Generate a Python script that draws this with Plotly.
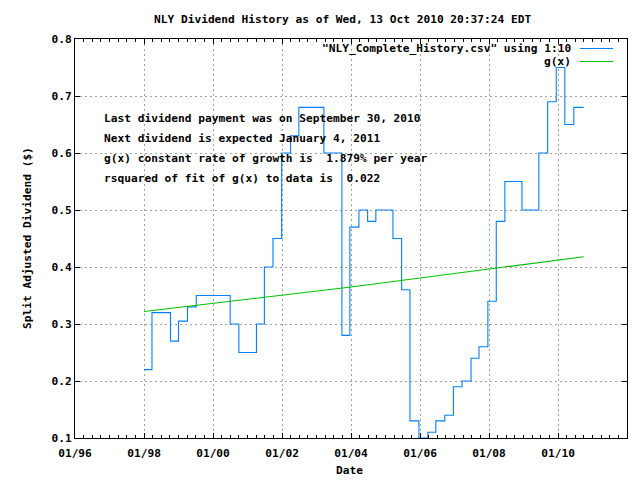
import plotly.graph_objects as go

# dividend history, steps (value holds until next date)
div_dates = [
    "1998-01-01", "1998-03-26", "1998-10-08", "1999-01-01", "1999-04-06",
    "1999-07-08", "2000-07-01", "2000-10-01", "2001-04-05", "2001-06-28",
    "2001-09-27", "2001-12-28", "2002-04-01", "2002-06-28", "2003-03-20",
    "2003-09-27", "2003-12-20", "2004-03-25", "2004-06-25", "2004-09-20",
    "2005-03-20", "2005-06-20", "2005-09-16", "2005-12-20", "2006-03-25",
    "2006-06-17", "2006-09-20", "2006-12-20", "2007-03-22", "2007-06-25",
    "2007-09-17", "2007-12-20", "2008-03-18", "2008-06-17", "2008-12-15",
    "2009-06-12", "2009-09-13", "2009-12-13", "2010-03-14", "2010-06-17",
    "2010-09-30",
]
div_values = [
    0.22, 0.32, 0.27, 0.305, 0.33,
    0.35, 0.30, 0.25, 0.30, 0.40,
    0.45, 0.60, 0.63, 0.68, 0.60,
    0.28, 0.47, 0.50, 0.48, 0.50,
    0.45, 0.36, 0.13, 0.10, 0.11,
    0.13, 0.14, 0.19, 0.20, 0.24,
    0.26, 0.34, 0.48, 0.55, 0.50,
    0.60, 0.69, 0.75, 0.65, 0.68,
    0.68,
]

# fitted growth curve g(x)
fit_dates = ["1998-01-01", "2004-01-01", "2010-09-30"]
fit_values = [0.322, 0.365, 0.418]

title_txt = "NLY Dividend History as of Wed, 13 Oct 2010 20:37:24 EDT"
legend_names = ['"NLY_Complete_History.csv" using 1:10', "g(x)"]
notes = [
    "Last dividend payment was on September 30, 2010",
    "Next dividend is expected January 4, 2011",
    "g(x) constant rate of growth is  1.879% per year",
    "rsquared of fit of g(x) to data is  0.022",
]

mono = "DejaVu Sans Mono"
fsize = 11.2
blue = "rgb(0,128,255)"
green = "rgb(0,192,0)"
gridgray = "rgb(160,160,160)"


def tfont():
    return dict(family=mono, size=fsize, color="black", weight="bold")


fig = go.Figure()
fig.add_trace(go.Scatter(
    x=div_dates, y=div_values, mode="lines", line_shape="hv",
    line=dict(color=blue, width=1.1), name=legend_names[0], showlegend=False
))
fig.add_trace(go.Scatter(
    x=fit_dates, y=fit_values, mode="lines",
    line=dict(color=green, width=1.1), name=legend_names[1], showlegend=False
))

L, R, T, B = 75, 13, 39, 42
W, H = 640, 480
pw, ph = W - L - R, H - T - B


def px(x):
    return (x - L) / pw


def py(y):
    return (H - B - y) / ph


def note(text, x, y, xanchor="center", **kw):
    return dict(text=text, x=px(x), y=py(y), xref="paper", yref="paper",
                xanchor=xanchor, yanchor="middle", showarrow=False,
                font=tfont(), **kw)


annots = [note(title_txt, 342, 19)]
for i, t in enumerate(notes):
    annots.append(note(t, 102, 118 + 20 * i, xanchor="left"))
shapes = []
for i, (nm, col) in enumerate(zip(legend_names, [blue, green])):
    yy = 48.5 + 13 * i
    annots.append(note(nm, 573, yy, xanchor="right"))
    shapes.append(dict(type="line", xref="paper", yref="paper",
                       x0=px(580), x1=px(613), y0=py(yy), y1=py(yy),
                       line=dict(color=col, width=1.1)))
annots.append(note("Split Adjusted Dividend ($)", 27, 238, textangle=-90))
annots.append(note("Date", 349, 470))

fig.update_layout(
    width=W, height=H,
    margin=dict(l=L, r=R, t=T, b=B),
    paper_bgcolor="white", plot_bgcolor="white",
    font=tfont(),
    annotations=annots, shapes=shapes,
    showlegend=False,
)
fig.update_xaxes(
    type="date", range=["1996-01-01", "2012-01-01"],
    dtick="M24", tick0="1996-01-01", tickformat="%m/%y",
    showline=True, linecolor="black", linewidth=1, mirror="allticks",
    ticks="inside", ticklen=5, tickcolor="black", ticklabelstandoff=5,
    showgrid=True, gridcolor=gridgray, griddash="2px,3px", gridwidth=1,
    minor=dict(dtick="M3", ticks="inside", ticklen=3, tickcolor="black", showgrid=False),
    layer="above traces", zeroline=False,
    tickfont=tfont(),
)
fig.update_yaxes(
    range=[0.1, 0.8], dtick=0.1, tickformat=".1f",
    showline=True, linecolor="black", linewidth=1, mirror="allticks",
    ticks="inside", ticklen=5, tickcolor="black",
    showgrid=True, gridcolor=gridgray, griddash="2px,3px", gridwidth=1,
    layer="above traces", zeroline=False,
    tickfont=tfont(),
)

fig.write_html("out.html", config={"displayModeBar": False},
               post_script="document.body.style.margin='0';")
